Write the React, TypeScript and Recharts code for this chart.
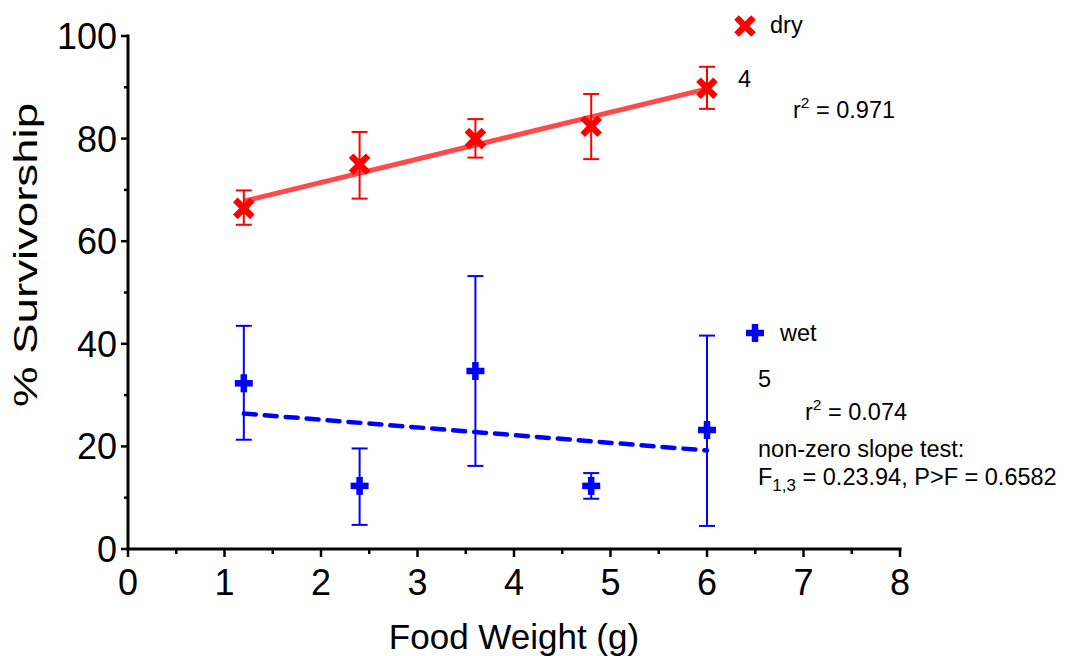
import React from 'react';
import { ComposedChart, XAxis, YAxis, Scatter, Line, ErrorBar } from 'recharts';

// ---- data ----
const foodWeight = [1.2, 2.4, 3.6, 4.8, 6.0];

const dryMean = [66.4, 75.0, 80.0, 82.4, 89.8];
const dryUpper = [69.9, 81.3, 83.8, 88.7, 94.0];
const dryLower = [63.2, 68.3, 76.3, 76.0, 85.8];

const wetMean = [32.3, 12.3, 34.7, 12.3, 23.2];
const wetUpper = [43.5, 19.6, 53.2, 14.8, 41.6];
const wetLower = [21.3, 4.7, 16.2, 9.8, 4.5];

const fitX = [1.2, 6.0];
const dryFitY = [67.8, 89.7];
const wetFitY = [26.4, 19.2];

const xTicks = [0, 0.5, 1, 1.5, 2, 2.5, 3, 3.5, 4, 4.5, 5, 5.5, 6, 6.5, 7, 7.5, 8];
const xMajor = [0, 1, 2, 3, 4, 5, 6, 7, 8];
const yTicks = [0, 10, 20, 30, 40, 50, 60, 70, 80, 90, 100];
const yMajor = [0, 20, 40, 60, 80, 100];

const FONT = '"Liberation Sans", Arial, Helvetica, sans-serif';
const RED = '#ff0000';
const BLUE = '#0000ff';

const dryData = foodWeight.map((x, i) => ({
  x,
  y: dryMean[i],
  err: [dryMean[i] - dryLower[i], dryUpper[i] - dryMean[i]],
}));
const wetData = foodWeight.map((x, i) => ({
  x,
  y: wetMean[i],
  err: [wetMean[i] - wetLower[i], wetUpper[i] - wetMean[i]],
}));
const dryFit = fitX.map((x, i) => ({ x, y: dryFitY[i] }));
const wetFit = fitX.map((x, i) => ({ x, y: wetFitY[i] }));

const XTick = (props: any) => {
  const { x, y, payload } = props;
  const v = payload.value;
  const major = xMajor.includes(v);
  return (
    <g>
      <line x1={x} x2={x} y1={y} y2={y + (major ? 8 : 5)} stroke="#000" strokeWidth={2.5} />
      {major && (
        <text x={x} y={y + 46} textAnchor="middle" fontSize={36} fontFamily={FONT} fill="#000">
          {v}
        </text>
      )}
    </g>
  );
};

const YTick = (props: any) => {
  const { x, y, payload } = props;
  const v = payload.value;
  const major = yMajor.includes(v);
  return (
    <g>
      <line x1={x} x2={x - (major ? 7 : 4)} y1={y} y2={y} stroke="#000" strokeWidth={2.5} />
      {major && (
        <text x={x - 11} y={y + 13} textAnchor="end" fontSize={36} fontFamily={FONT} fill="#000">
          {v}
        </text>
      )}
    </g>
  );
};

const CrossMark = (props: any) => {
  const { cx, cy } = props;
  const s = 8.5;
  return (
    <g>
      <line x1={cx - s} y1={cy - s} x2={cx + s} y2={cy + s} stroke={RED} strokeWidth={6.5} />
      <line x1={cx - s} y1={cy + s} x2={cx + s} y2={cy - s} stroke={RED} strokeWidth={6.5} />
    </g>
  );
};

const PlusMark = (props: any) => {
  const { cx, cy } = props;
  const s = 9;
  return (
    <g>
      <line x1={cx - s} y1={cy} x2={cx + s} y2={cy} stroke={BLUE} strokeWidth={6.5} />
      <line x1={cx} y1={cy - s} x2={cx} y2={cy + s} stroke={BLUE} strokeWidth={6.5} />
    </g>
  );
};

export default function App() {
  const W = 1051;
  const H = 648;
  return (
    <div style={{ position: 'relative', width: W, height: H }}>
      <ComposedChart
        width={W}
        height={H}
        margin={{ top: 28, right: 159, bottom: 0, left: 0 }}
      >
        <XAxis
          type="number"
          dataKey="x"
          domain={[0, 8]}
          ticks={xTicks}
          interval={0}
          height={107}
          tickSize={0}
          tickMargin={0}
          tickLine={false}
          tick={<XTick />}
          axisLine={{ stroke: '#000', strokeWidth: 3, strokeLinecap: 'square' }}
          allowDataOverflow
        />
        <YAxis
          type="number"
          dataKey="y"
          domain={[0, 100]}
          ticks={yTicks}
          interval={0}
          width={120}
          tickSize={0}
          tickMargin={0}
          tickLine={false}
          tick={<YTick />}
          axisLine={{ stroke: '#000', strokeWidth: 3, strokeLinecap: 'square' }}
          allowDataOverflow
        />
        <Line
          data={dryFit}
          dataKey="y"
          stroke="#ff4a4a"
          strokeWidth={5}
          dot={false}
          activeDot={false}
          isAnimationActive={false}
        />
        <Line
          data={wetFit}
          dataKey="y"
          stroke={BLUE}
          strokeWidth={4.5}
          strokeDasharray="12 9"
          strokeLinecap="round"
          dot={false}
          activeDot={false}
          isAnimationActive={false}
        />
        <Scatter data={dryData} dataKey="y" shape={<CrossMark />} isAnimationActive={false}>
          <ErrorBar dataKey="err" direction="y" width={8} stroke={RED} strokeWidth={2} />
        </Scatter>
        <Scatter data={wetData} dataKey="y" shape={<PlusMark />} isAnimationActive={false}>
          <ErrorBar dataKey="err" direction="y" width={8} stroke={BLUE} strokeWidth={2} />
        </Scatter>
      </ComposedChart>

      <svg
        width={W}
        height={H}
        style={{ position: 'absolute', left: 0, top: 0, pointerEvents: 'none' }}
        fontFamily={FONT}
      >
        {/* axis titles */}
        <text
          transform="translate(29,247) rotate(-90)"
          textAnchor="middle"
          fontSize={33}
          textLength={304}
          lengthAdjust="spacingAndGlyphs"
          fill="#000"
        >
          % Survivorship
        </text>
        <text x={506} y={641} textAnchor="middle" fontSize={35} fill="#000">
          Food Weight (g)
        </text>

        {/* dry legend & stats */}
        <CrossMark cx={737} cy={18} />
        <text x={762} y={25} fontSize={23.5} fill="#000">dry</text>
        <text x={730} y={79} fontSize={23.5} fill="#000">4</text>
        <text x={785} y={110} fontSize={23.5} fill="#000">
          r<tspan dy={-10} fontSize={15.5}>2</tspan>
          <tspan dy={10}> = 0.971</tspan>
        </text>

        {/* wet legend & stats */}
        <PlusMark cx={747} cy={325} />
        <text x={772} y={333} fontSize={23.5} fill="#000">wet</text>
        <text x={750} y={379} fontSize={23.5} fill="#000">5</text>
        <text x={797} y={412} fontSize={23.5} fill="#000">
          r<tspan dy={-10} fontSize={15.5}>2</tspan>
          <tspan dy={10}> = 0.074</tspan>
        </text>
        <text x={750} y={449} fontSize={23.5} fill="#000">non-zero slope test:</text>
        <text x={750} y={477} fontSize={23.5} fill="#000">
          F<tspan dy={6} fontSize={17}>1,3</tspan>
          <tspan dy={-6}> = 0.23.94, P&gt;F = 0.6582</tspan>
        </text>
      </svg>
    </div>
  );
}
